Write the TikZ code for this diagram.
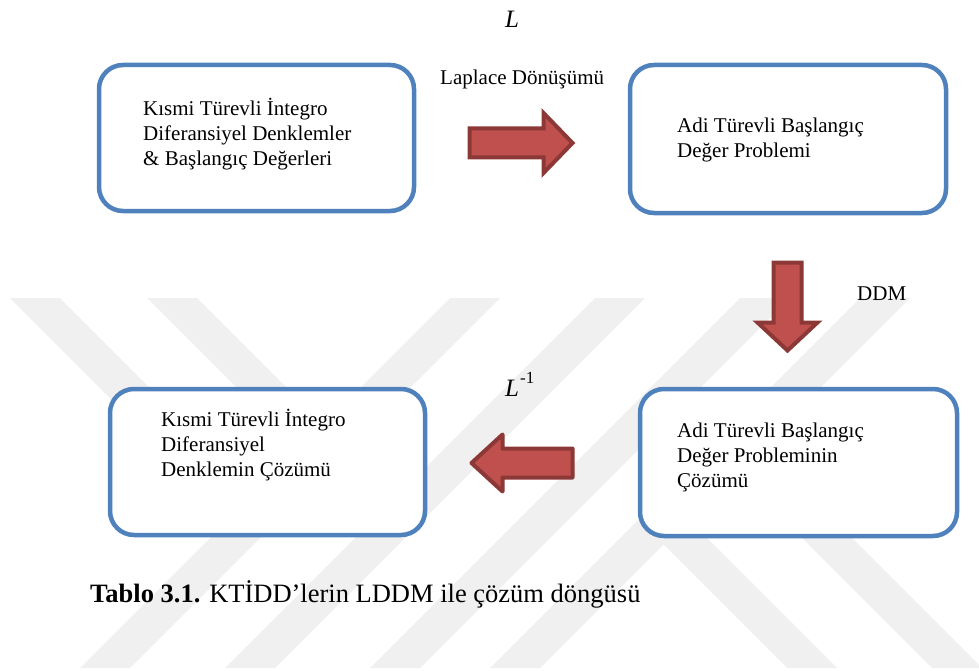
\documentclass[tikz,border=0pt]{standalone}
\usepackage{fontspec}
\setmainfont{Liberation Serif}
\usepackage{xcolor}
\usetikzlibrary{positioning}
\definecolor{boxblue}{HTML}{4F81BD}
\definecolor{arrowred}{HTML}{C0504D}
\definecolor{arrowdark}{HTML}{8C3836}

\begin{document}
\begin{tikzpicture}[x=1pt,y=-1pt,
        panel/.style={draw=boxblue,line width=4.5pt,rounded corners=24pt,fill=white,inner sep=0pt},
        boxtext/.style={align=left,anchor=north west,inner sep=0pt,font=\fontsize{21}{25}\selectfont},
        lbl/.style={inner sep=0pt,anchor=base west,font=\fontsize{21}{25}\selectfont},
        blockarrow/.style={fill=arrowred,draw=arrowdark,line width=4pt},
        wmark/.style={fill=black!6}]
    \useasboundingbox (0,0) rectangle (979,671);
    % watermark
    \begin{scope}
        \clip (0,298) rectangle (979,668);
        \foreach \a in {450,595,740,860}
            \fill[wmark] (\a,298) -- (\a+50,298) -- (\a-320,668) -- (\a-370,668) -- cycle;
        \foreach \a in {10,147}
            \fill[wmark] (\a,298) -- (\a+50,298) -- (\a+222,470) -- (\a+172,470) -- cycle;
        \foreach \a in {655,800}
            \fill[wmark] (\a,536) -- (\a+50,536) -- (\a+182,668) -- (\a+132,668) -- cycle;
    \end{scope}

    \node[panel,minimum width=315pt,minimum height=146pt] (pde) at (256.5,138) {};
    \node[panel,minimum width=316pt,minimum height=148pt] (ode) at (788,139) {};
    \node[panel,minimum width=317pt,minimum height=147pt] (odesol) at (798.5,462.5) {};
    \node[panel,minimum width=315pt,minimum height=146pt] (pdesol) at (267.5,462) {};

    \node[boxtext] (pdetext) at (143,97.5) {\strut Kısmi Türevli İntegro\\Diferansiyel Denklemler\\\& Başlangıç Değerleri};
    \node[boxtext] (odetext) at (677,114.5) {\strut Adi Türevli Başlangıç\\Değer Problemi};
    \node[boxtext] (odesoltext) at (677,419.5) {\strut Adi Türevli Başlangıç\\Değer Probleminin\\Çözümü};
    \node[boxtext] (pdesoltext) at (161,408.5) {\strut Kısmi Türevli İntegro\\Diferansiyel\\Denklemin Çözümü};

    % block arrows
    \draw[blockarrow] (469.5,128.5) -- (543.5,128.5) -- (543.5,113) -- (572.5,143) -- (543.5,173) -- (543.5,157.5) -- (469.5,157.5) -- cycle;
    \draw[blockarrow] (773.5,262.5) -- (801.5,262.5) -- (801.5,322.5) -- (817.5,322.5) -- (787.5,350.5) -- (757.5,322.5) -- (773.5,322.5) -- cycle;
    \draw[blockarrow,line join=round] (572.5,448.5) -- (502.5,448.5) -- (502.5,434.5) -- (471.5,463) -- (502.5,491.5) -- (502.5,477.5) -- (572.5,477.5) -- cycle;

    \node[lbl,font=\fontsize{25}{25}\selectfont] (lsym) at (505,28) {\textit{L}};
    \node[lbl] (laplace) at (440,85) {Laplace Dönüşümü};
    \node[lbl] (ddm) at (857,300) {DDM};
    \node[lbl,font=\fontsize{25}{25}\selectfont] (linv) at (505,396) {\textit{L}\kern1pt\raisebox{13pt}{\fontsize{17}{17}\selectfont -1}};
    \node[inner sep=0pt,anchor=base west,font=\fontsize{26.5}{30}\selectfont] (caption) at (90,602) {\textbf{Tablo 3.1.} KTİDD’lerin LDDM ile çözüm döngüsü};
\end{tikzpicture}
\end{document}
